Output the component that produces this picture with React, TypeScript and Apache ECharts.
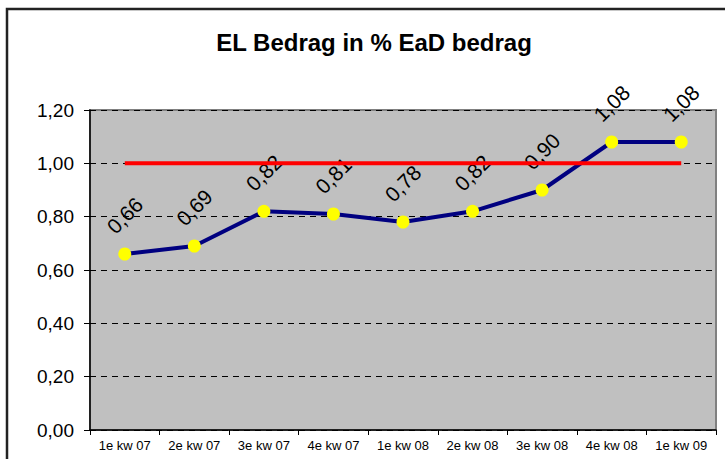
import React, { useEffect, useRef } from "react";
import * as echarts from "echarts";

const categories = ["1e kw 07", "2e kw 07", "3e kw 07", "4e kw 07", "1e kw 08", "2e kw 08", "3e kw 08", "4e kw 08", "1e kw 09"];
const elValues = [0.66, 0.69, 0.82, 0.81, 0.78, 0.82, 0.9, 1.08, 1.08];
const targetValues = [1.0, 1.0, 1.0, 1.0, 1.0, 1.0, 1.0, 1.0, 1.0];
const titleText = "EL Bedrag in % EaD bedrag";

const fmt = (v: number) => v.toFixed(2).replace(".", ",");
const FONT = "'Liberation Sans', Arial, sans-serif";

export default function App() {
  const ref = useRef<HTMLDivElement>(null);
  useEffect(() => {
    if (!ref.current) return;
    const chart = echarts.init(ref.current, null, { renderer: "svg" });
    chart.setOption({
      animation: false,
      backgroundColor: "#ffffff",
      title: {
        text: titleText,
        left: 369,
        textAlign: "center",
        top: 25,
        textStyle: { fontFamily: FONT, fontSize: 24, fontWeight: "bold", color: "#000" },
      },
      graphic: [
        {
          type: "rect",
          shape: { x: 7, y: 9, width: 740, height: 470 },
          style: { fill: "none", stroke: "#222", lineWidth: 2.5 },
          z: 10,
        },
      ],
      grid: {
        left: 90,
        top: 110,
        right: 9,
        bottom: 29,
        show: true,
        backgroundColor: "#C0C0C0",
        borderColor: "#808080",
        borderWidth: 2,
      },
      xAxis: {
        type: "category",
        data: categories,
        boundaryGap: true,
        axisLine: { lineStyle: { color: "#000", width: 1.5 } },
        axisTick: { show: true, length: 5, lineStyle: { color: "#000" } },
        axisLabel: { fontFamily: FONT, fontSize: 13, color: "#000", margin: 9 },
        splitLine: { show: false },
      },
      yAxis: {
        type: "value",
        min: 0,
        max: 1.2,
        interval: 0.2,
        axisLine: { show: true, lineStyle: { color: "#000", width: 1.5 } },
        axisTick: { show: true, length: 6, lineStyle: { color: "#000" } },
        axisLabel: { fontFamily: FONT, fontSize: 19, color: "#000", margin: 16, formatter: fmt },
        splitLine: { show: true, lineStyle: { color: "#000", width: 1, type: [6, 5] } },
      },
      series: [
        {
          type: "line",
          data: elValues,
          lineStyle: { color: "#000080", width: 4 },
          itemStyle: { color: "#FFFF00" },
          symbol: "circle",
          symbolSize: 13,
          z: 3,
          label: {
            show: true,
            position: "top",
            distance: 32,
            rotate: 45,
            align: "center",
            verticalAlign: "middle",
            fontFamily: FONT,
            fontSize: 21,
            color: "#000",
            formatter: (p: any) => fmt(p.value),
          },
        },
        {
          type: "line",
          data: targetValues,
          lineStyle: { color: "#FF0000", width: 4 },
          symbol: "none",
          z: 4,
        },
      ],
    });
    return () => chart.dispose();
  }, []);
  return (
    <div
      ref={ref}
      style={{ position: "absolute", left: 0, top: 0, width: 725, height: 459 }}
    />
  );
}
